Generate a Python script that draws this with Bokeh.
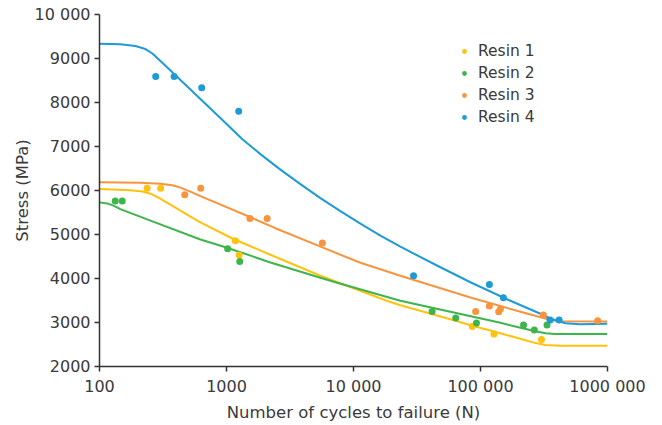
from bokeh.plotting import figure
from bokeh.models import Range1d, FixedTicker, Legend, LegendItem
from bokeh.embed import file_html
from bokeh.resources import INLINE

# ---- data ----
# fitted curves (cycles, stress MPa)
r1_curve_n = [100, 175, 218, 252, 291, 362, 475, 623, 1133, 2217, 5489, 17830, 23400, 57940, 86350, 143500, 206200, 270600, 324300, 425700, 1000000]
r1_curve_s = [6035, 6008, 5978, 5928, 5837, 5678, 5473, 5275, 4898, 4540, 4063, 3505, 3392, 3073, 2925, 2755, 2630, 2532, 2489, 2470, 2470]

r2_curve_n = [100, 115, 129, 146, 252, 623, 1012, 2217, 5489, 7430, 23400, 57940, 143500, 206200, 270600, 324300, 389000, 1000000]
r2_curve_s = [5730, 5707, 5655, 5576, 5314, 4885, 4700, 4365, 4017, 3904, 3494, 3244, 2994, 2880, 2800, 2755, 2737, 2737]

r3_curve_n = [100, 210, 302, 375, 434, 520, 623, 980, 1542, 2427, 5690, 11330, 23400, 83280, 206200, 334500, 410700, 1000000]
r3_curve_s = [6185, 6178, 6156, 6121, 6065, 5974, 5871, 5632, 5393, 5143, 4706, 4358, 4063, 3569, 3244, 3078, 3028, 3023]

r4_curve_n = [100, 146, 192, 230, 261, 302, 434, 623, 895, 1327, 1849, 2657, 3819, 5489, 7886, 11330, 16290, 23400, 48340, 83280, 171970, 296300, 368300, 466200, 611800, 1000000]
r4_curve_s = [9333, 9322, 9283, 9215, 9113, 8942, 8510, 8078, 7646, 7172, 6827, 6474, 6144, 5826, 5530, 5246, 4973, 4722, 4256, 3915, 3494, 3198, 3073, 2982, 2960, 2971]

# measured points (cycles, stress MPa)
r1_pts_n = [237, 303, 1175, 1256, 86100, 127700, 302000]
r1_pts_s = [6049, 6049, 4859, 4534, 2909, 2737, 2616]

r2_pts_n = [133, 151, 1021, 1271, 41600, 63800, 92900, 218300, 265500, 334000]
r2_pts_s = [5762, 5762, 4677, 4386, 3251, 3101, 2987, 2941, 2828, 2941]

r3_pts_n = [469, 627, 1528, 2090, 5690, 91600, 117500, 139100, 143500, 312600, 837000]
r3_pts_s = [5905, 6049, 5366, 5366, 4807, 3251, 3373, 3244, 3305, 3171, 3039]

r4_pts_n = [277, 387, 638, 1248, 29700, 117500, 151400, 353000, 415800]
r4_pts_s = [8590, 8590, 8333, 7800, 4063, 3865, 3562, 3055, 3055]

series_names = ["Resin 1", "Resin 2", "Resin 3", "Resin 4"]
colors = ["#FFC20E", "#3DB54A", "#F7943D", "#1D9BD7"]

x_ticks = [100, 1000, 10000, 100000, 1000000]
x_tick_labels = ["100", "1000", "10 000", "100 000", "1000 000"]
y_ticks = [2000, 3000, 4000, 5000, 6000, 7000, 8000, 9000, 10000]
y_tick_labels = ["2000", "3000", "4000", "5000", "6000", "7000", "8000", "9000", "10 000"]

FONT = "DejaVu Sans"
TXT = "#3a3a3a"

p = figure(width=662, height=425, x_axis_type="log",
           x_range=Range1d(100, 1000000), y_range=Range1d(2000, 10000),
           output_backend="svg", toolbar_location=None,
           min_border_left=99, min_border_right=55, min_border_top=14, min_border_bottom=59)
p.outline_line_color = None
p.grid.visible = False
p.background_fill_color = "white"
p.border_fill_color = "white"

curves = [(r1_curve_n, r1_curve_s), (r2_curve_n, r2_curve_s), (r3_curve_n, r3_curve_s), (r4_curve_n, r4_curve_s)]
points = [(r1_pts_n, r1_pts_s), (r2_pts_n, r2_pts_s), (r3_pts_n, r3_pts_s), (r4_pts_n, r4_pts_s)]

items = []
for (cn, cs), c in zip(curves, colors):
    p.line(cn, cs, line_color=c, line_width=2, line_join="round")
for (pn, ps), name, c in zip(points, series_names, colors):
    r = p.scatter(pn, ps, size=7, fill_color=c, line_color=None)
    items.append(LegendItem(label=name, renderers=[r]))

for ax in (p.xaxis[0], p.yaxis[0]):
    ax.axis_line_color = "#333333"
    ax.axis_line_width = 1.5
    ax.major_tick_line_color = "#333333"
    ax.major_tick_line_width = 1.5
    ax.major_tick_out = 5
    ax.major_tick_in = 0
    ax.minor_tick_line_color = None
    ax.major_label_text_font = FONT
    ax.major_label_text_font_size = "16px"
    ax.major_label_text_color = TXT
    ax.axis_label_text_font = FONT
    ax.axis_label_text_font_size = "16.5px"
    ax.axis_label_text_font_style = "normal"
    ax.axis_label_text_color = TXT

p.xaxis.ticker = FixedTicker(ticks=x_ticks)
p.xaxis.major_label_overrides = {t: l for t, l in zip(x_ticks, x_tick_labels)}
p.xaxis.axis_label = "Number of cycles to failure (N)"
p.xaxis.major_label_standoff = 5
p.xaxis.axis_label_standoff = 4

p.yaxis.ticker = FixedTicker(ticks=y_ticks)
p.yaxis.major_label_overrides = {t: l for t, l in zip(y_ticks, y_tick_labels)}
p.yaxis.axis_label = "Stress (MPa)"
p.yaxis.major_label_standoff = 4
p.yaxis.axis_label_standoff = 0

legend = Legend(items=items, location=(359, 238), border_line_color=None,
                background_fill_alpha=0, padding=0, margin=0, spacing=0,
                glyph_width=12, glyph_height=22, label_height=22, label_standoff=8,
                label_text_font=FONT, label_text_font_size="15.5px", label_text_color=TXT)
p.add_layout(legend)

open("out.html", "w").write(file_html(p, INLINE))
